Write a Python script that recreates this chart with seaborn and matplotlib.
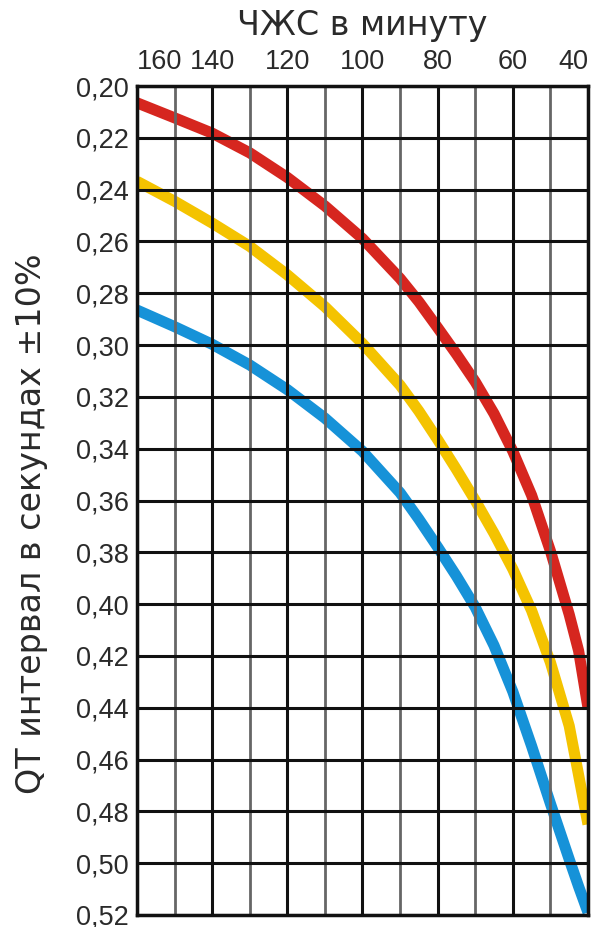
import matplotlib
matplotlib.use("Agg")
import matplotlib.pyplot as plt
import pandas as pd
import seaborn as sns

# Heart rate (beats per minute) and QT interval (seconds) for three curves
heart_rate = [160, 150, 140, 130, 120, 110, 100, 90, 85, 80, 75, 70, 65, 60, 55, 50, 45, 42.5, 40]
qt_upper = [0.2065, 0.2123, 0.2182, 0.2258, 0.2353, 0.2463, 0.2589, 0.2743, 0.2833, 0.2933,
            0.3035, 0.3142, 0.3265, 0.3410, 0.3580, 0.3795, 0.4040, 0.4180, 0.4400]
qt_middle = [0.2368, 0.2445, 0.2529, 0.2619, 0.2729, 0.2852, 0.2994, 0.3155, 0.3255, 0.3365,
             0.3480, 0.3600, 0.3727, 0.3865, 0.4025, 0.4225, 0.4470, 0.4660, 0.4850]
qt_lower = [0.2865, 0.2929, 0.2997, 0.3077, 0.3172, 0.3282, 0.3410, 0.3570, 0.3672, 0.3780,
            0.3892, 0.4012, 0.4160, 0.4338, 0.4548, 0.4770, 0.4985, 0.5090, 0.5190]

series_names = ["upper", "middle", "lower"]
series_colors = ["#d6261f", "#f4c300", "#1692d8"]

hr_ticks = [160, 140, 120, 100, 80, 60, 40]
hr_minor = [150, 130, 110, 90, 70, 50]
qt_ticks = [0.20, 0.22, 0.24, 0.26, 0.28, 0.30, 0.32, 0.34, 0.36, 0.38,
            0.40, 0.42, 0.44, 0.46, 0.48, 0.50, 0.52]

title_text = "ЧЖС в минуту"
ylabel_text = "QT интервал в секундах ±10%"

df = pd.concat([
    pd.DataFrame({"hr": heart_rate, "qt": vals, "series": name})
    for name, vals in zip(series_names, [qt_upper, qt_middle, qt_lower])
])

sns.set_theme(style="white")
plt.rcParams["font.family"] = ["Liberation Sans", "DejaVu Sans"]
text_color = "#2a2a2a"

fig = plt.figure(figsize=(6.04, 9.27), dpi=100)
ax = fig.add_axes([137 / 604, 1 - 915 / 927, (588 - 137) / 604, (915 - 86) / 927])

sns.lineplot(data=df, x="hr", y="qt", hue="series", palette=series_colors,
             hue_order=series_names, linewidth=8, legend=False, ax=ax,
             sort=False, estimator=None)
for line in ax.get_lines():
    line.set_solid_capstyle("butt")
    line.set_solid_joinstyle("round")

ax.set_xlim(160, 40)
ax.set_ylim(0.52, 0.20)

# grid drawn over the curves: black for labelled rates and QT steps,
# grey for the intermediate rates
ax.set_axisbelow(False)
ax.set_xticks(hr_ticks)
ax.set_xticks(hr_minor, minor=True)
ax.set_yticks(qt_ticks)
ax.grid(which="major", axis="both", color="#111111", linewidth=2.2)
ax.grid(which="minor", axis="x", color="#666666", linewidth=2.0)

ax.xaxis.tick_top()
ax.tick_params(axis="both", which="both", length=0)
ax.set_xticklabels([])
ax.set_yticklabels([f"{v:.2f}".replace(".", ",") for v in qt_ticks], fontsize=19.5,
                   color=text_color)
ax.tick_params(axis="y", pad=6)

# rate labels above the frame; the end ones are kept inside the frame width
label_align = {160: "left", 40: "right"}
for hr in hr_ticks:
    ax.text(hr, 1.013, str(hr), transform=ax.get_xaxis_transform(),
            ha=label_align.get(hr, "center"), va="bottom", fontsize=19.5,
            color=text_color)

ax.text(0.5, 1.053, title_text, transform=ax.transAxes, ha="center", va="bottom",
        fontsize=24, color=text_color, family="DejaVu Sans")

ax.set_xlabel("")
ax.set_ylabel(ylabel_text, fontsize=24, color=text_color, family="DejaVu Sans")
ax.yaxis.set_label_coords(-0.198, 0.472)

for spine in ax.spines.values():
    spine.set_color("#111111")
    spine.set_linewidth(2.5)
    spine.set_zorder(5)

fig.savefig("out.png", dpi=100, facecolor="white")
